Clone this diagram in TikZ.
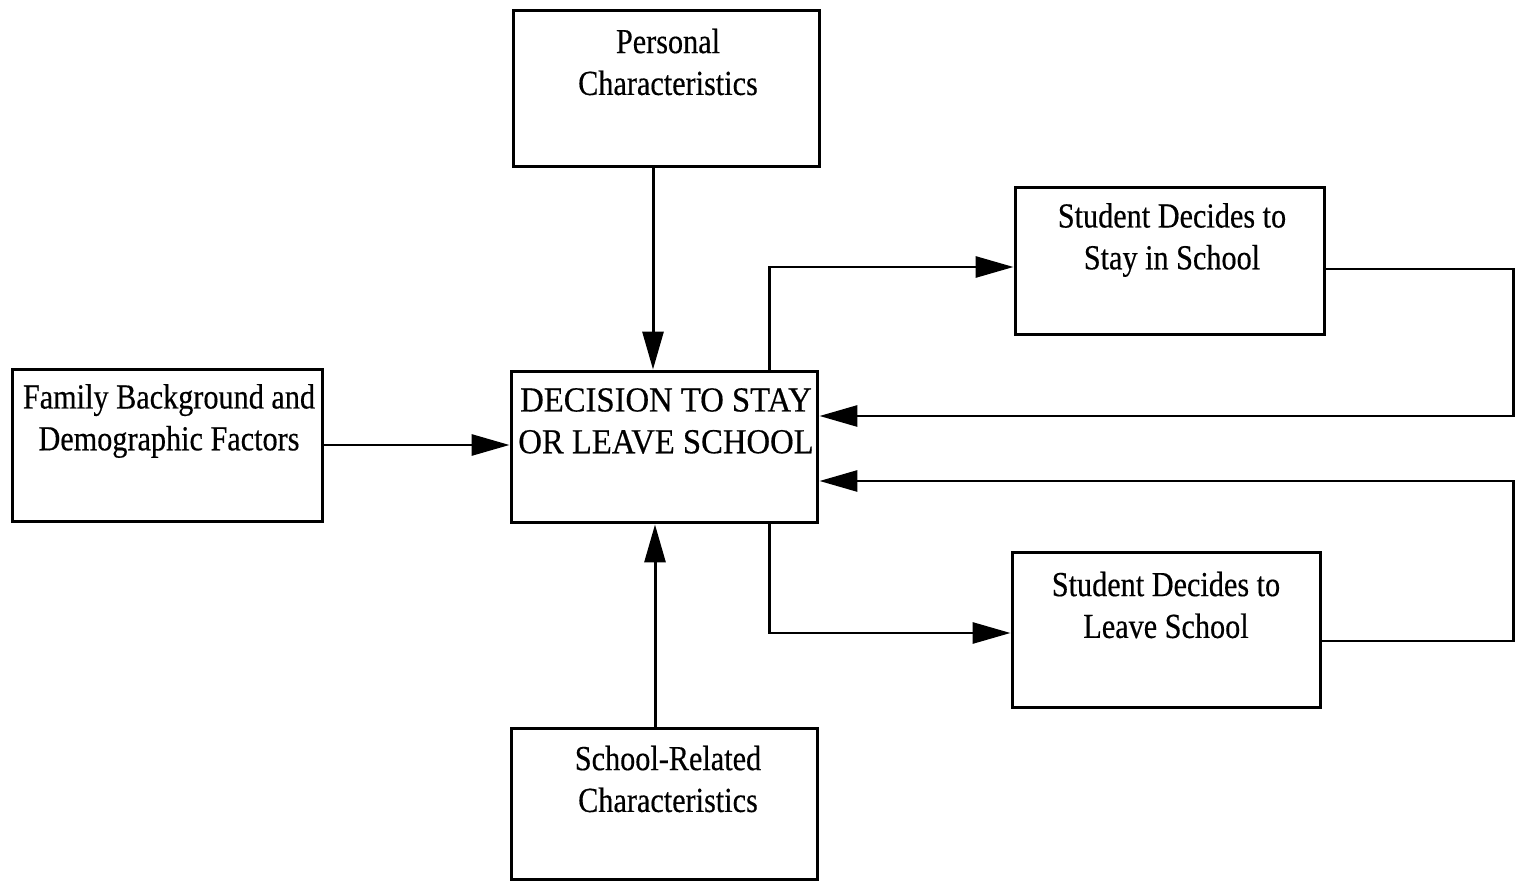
\documentclass[tikz,border=0pt]{standalone}
\usepackage{fontspec}
\setmainfont[FakeStretch=0.86,FakeBold=0.4]{Liberation Serif}
\newfontfamily\widefont[FakeStretch=0.93,FakeBold=0.4]{Liberation Serif}
\usetikzlibrary{arrows.meta}
\begin{document}
\begin{tikzpicture}[x=0.02cm,y=-0.02cm,
  box/.style={draw,line width=1.7pt,inner sep=0pt},
  txt/.style={align=center,inner sep=0pt,font=\fontsize{20}{23.8}\selectfont},
  conn/.style={line width=1.7pt,-{Triangle[length=0.76cm,width=0.42cm]}},
  plain/.style={line width=1.7pt}]
\useasboundingbox (0,0) rectangle (1515,881);
\node[box,minimum width=6.14cm,minimum height=3.14cm] (pers) at (666.5,88.5) {};
\node[box,minimum width=6.22cm,minimum height=3.06cm] (fam) at (167.5,445.5) {};
\node[box,minimum width=6.14cm,minimum height=3.04cm] (dec) at (664.5,447) {};
\node[box,minimum width=6.14cm,minimum height=3.04cm] (sch) at (664.5,804) {};
\node[box,minimum width=6.2cm,minimum height=2.96cm] (stay) at (1170,261) {};
\node[box,minimum width=6.18cm,minimum height=3.12cm] (leave) at (1166.5,630) {};
\node[txt] at (668,62) {Personal\\Characteristics};
\node[txt] at (169,421) {Family Background and\\Demographic Factors};
\node[txt,font=\widefont\fontsize{20}{23.8}\selectfont] at (666,421) {DECISION TO STAY\\OR LEAVE SCHOOL};
\node[txt] at (668,779) {School-Related\\Characteristics};
\node[txt] at (1172,240) {Student Decides to\\Stay in School};
\node[txt] at (1166,605) {Student Decides to\\Leave School};
\coordinate (r1) at (1513,269);
\coordinate (r2) at (1513,416);
\coordinate (r3) at (1513,641);
\coordinate (r4) at (1513,481);
\draw[conn] (pers.south -| 653,0) -- (dec.north -| 653,0);
\draw[conn] (fam.east |- 0,445) -- (dec.west |- 0,445);
\draw[conn] (sch.north -| 655,0) -- (dec.south -| 655,0);
\draw[conn] (dec.north -| 769,0) |- (stay.west |- 0,267);
\draw[conn] (dec.south -| 769,0) |- (leave.west |- 0,633);
\draw[conn] (stay.east |- r1) -- (r1) -- (r2) -- (dec.east |- r2);
\draw[conn] (leave.east |- r3) -- (r3) -- (r4) -- (dec.east |- r4);
\end{tikzpicture}
\end{document}
